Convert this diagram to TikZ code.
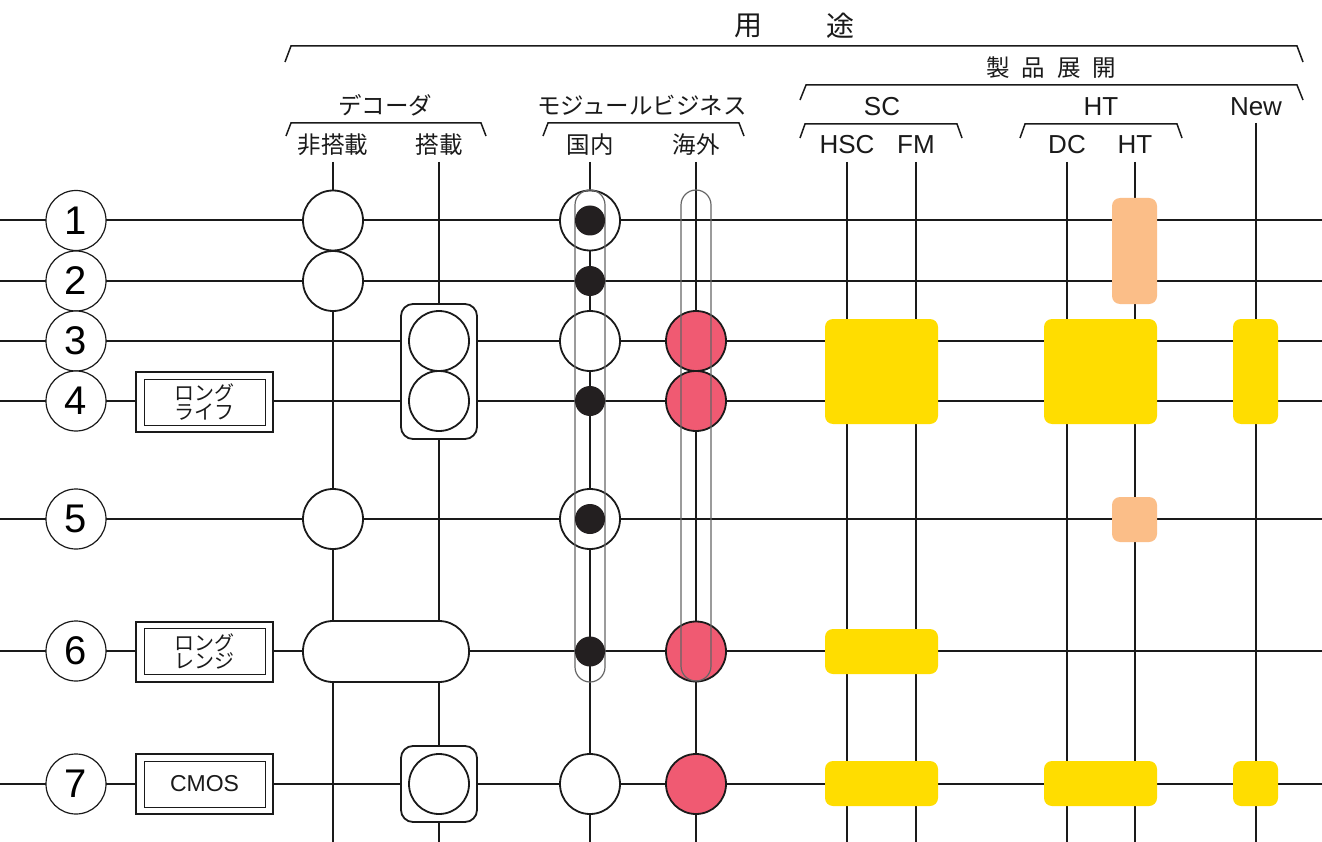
\documentclass[tikz,border=0pt]{standalone}
\usepackage{fontspec}
\setmainfont{Liberation Sans}
\newfontfamily\jp{Noto Sans CJK JP}
\definecolor{pinkred}{HTML}{F05A72}
\definecolor{ylw}{HTML}{FFDD00}
\definecolor{peach}{HTML}{FBBE88}
\definecolor{dotblk}{HTML}{231F20}
\definecolor{capgray}{HTML}{666666}
\definecolor{ink}{HTML}{1A1A1A}
\begin{document}
\begin{tikzpicture}[x=1pt,y=-1pt,
  gridline/.style={line width=2pt, ink},
  brk/.style={line width=1.5pt, ink},
  numc/.style={circle, draw=ink, line width=1.2pt, fill=white, minimum size=60pt, inner sep=0pt, font=\fontsize{40}{40}\selectfont},
  wc/.style={circle, draw=ink, line width=1.8pt, fill=white, minimum size=60pt, inner sep=0pt},
  rc/.style={wc, fill=pinkred},
  bd/.style={circle, fill=dotblk, minimum size=30pt, inner sep=0pt},
  capsule/.style={draw=capgray, line width=1.2pt, rounded corners=15pt, minimum width=30pt, inner sep=0pt},
  rbox/.style={draw=ink, line width=1.8pt, fill=white, rounded corners=12pt, inner sep=0pt, minimum width=76pt},
  stad/.style={draw=ink, line width=1.8pt, fill=white, rounded corners=30pt, inner sep=0pt, minimum width=166pt, minimum height=61pt},
  outbox/.style={draw=ink, line width=2pt, fill=white, inner sep=0pt, minimum width=137pt, minimum height=60pt},
  inbox/.style={draw=ink, line width=1pt, inner sep=0pt, minimum width=121pt, minimum height=46pt, align=center},
  ybox/.style={fill=ylw, rounded corners=8pt, inner sep=0pt},
  pbox/.style={fill=peach, rounded corners=8pt, inner sep=0pt},
  jt/.style={font=\jp\fontsize{23.5}{23.5}\selectfont, inner sep=0pt, text=ink},
  lt/.style={font=\fontsize{26}{26}\selectfont, inner sep=0pt, text=ink},
]
\useasboundingbox (0,0) rectangle (1322,842);
\fill[white] (0,0) rectangle (1322,842);

% rows
\foreach \n/\y in {1/220.5,2/281,3/341,4/401,5/519,6/651,7/784}{
  \coordinate (rL\n) at (0,\y);
  \coordinate (rR\n) at (1322,\y);
  \draw[gridline] (rL\n) -- (rR\n);
}
% columns
\foreach \n/\x in {nd/333,dd/439,dom/590,ovs/696,hsc/847,fm/916,dc/1067,ht/1135}{
  \coordinate (cT\n) at (\x,162);
  \coordinate (cB\n) at (\x,842);
  \draw[gridline] (cT\n) -- (cB\n);
}
\coordinate (cTnew) at (1256,123);
\coordinate (cBnew) at (1256,842);
\draw[gridline] (cTnew) -- (cBnew);

% headers
\node[jt, font=\jp\fontsize{28}{28}\selectfont] (you) at (748,26) {用};
\node[jt, font=\jp\fontsize{28}{28}\selectfont] (to) at (840,26) {途};
\draw[brk] (285,62) -- (291,46) -- (1297,46) -- (1303,62);
\node[jt] (seihin) at (1051,68) {製\hspace{12pt}品\hspace{12pt}展\hspace{12pt}開};
\draw[brk] (800,100) -- (806,85) -- (1297,85) -- (1303,100);
\node[jt] (deco) at (385,105) {デコーダ};
\draw[brk] (286,136) -- (291,123) -- (481,123) -- (486,136);
\node[jt] (mod) at (642,105) {モジュールビジネス};
\draw[brk] (543,136) -- (548,123) -- (739,123) -- (744,136);
\node[lt] (sc) at (882,107) {SC};
\draw[brk] (800,138) -- (805,124) -- (957,124) -- (962,138);
\node[lt] (htg) at (1101,107) {HT};
\draw[brk] (1020,138) -- (1025,124) -- (1177,124) -- (1182,138);
\node[lt] (new) at (1256,107) {New};
\node[jt] (nd) at (333,145) {非搭載};
\node[jt] (dd) at (439,145) {搭載};
\node[jt] (dom) at (590,145) {国内};
\node[jt] (ovs) at (696,145) {海外};
\node[lt] (hsc) at (847,145) {HSC};
\node[lt] (fm) at (916,145) {FM};
\node[lt] (dc) at (1067,145) {DC};
\node[lt] (ht) at (1135,145) {HT};

% number circles
\foreach \n/\y in {1/220.5,2/281,3/341,4/401,5/519,6/651,7/784}{
  \node[numc] (num\n) at (76,\y) {\n};
}
% left boxes
\node[outbox] (lbA) at (204.5,402) {};
\node[inbox, jt, font=\jp\fontsize{20}{18.5}\selectfont] (lbAi) at (204.5,402) {ロング\\ライフ};
\node[outbox] (lbB) at (204.5,651.5) {};
\node[inbox, jt, font=\jp\fontsize{20}{18.5}\selectfont] (lbBi) at (204.5,651.5) {ロング\\レンジ};
\node[outbox] (lbC) at (204.5,784) {};
\node[inbox, lt, font=\fontsize{23}{23}\selectfont] (lbCi) at (204.5,784) {CMOS};

% decoder column
\node[wc] (d1) at (333,220.5) {};
\node[wc] (d2) at (333,281) {};
\node[wc] (d5) at (333,519) {};
\node[stad] (d6) at (386,651.5) {};
\node[rbox, minimum height=135pt] (e34) at (439,371.5) {};
\node[wc] (e3) at (439,341) {};
\node[wc] (e4) at (439,401) {};
\node[rbox, minimum height=76pt] (e7) at (439,784) {};
\node[wc] (e7c) at (439,784) {};

% module business
\node[wc] (m1) at (590,220.5) {};
\node[wc] (m3) at (590,341) {};
\node[wc] (m5) at (590,519) {};
\node[wc] (m7) at (590,784) {};
\node[rc] (o3) at (696,341) {};
\node[rc] (o4) at (696,401) {};
\node[rc] (o6) at (696,651.5) {};
\node[rc] (o7) at (696,784) {};
\node[capsule, minimum height=492pt] (capdom) at (590,436) {};
\node[capsule, minimum height=491pt] (capovs) at (696,435.5) {};
\foreach \n/\y in {1/220.5,2/281,4/401,5/519,6/651.5}{
  \node[bd] (b\n) at (590,\y) {};
}

% product boxes
\node[ybox, minimum width=113pt, minimum height=105pt] (y34sc) at (881.5,371.5) {};
\node[ybox, minimum width=113pt, minimum height=105pt] (y34ht) at (1100.5,371.5) {};
\node[ybox, minimum width=45pt, minimum height=105pt] (y34new) at (1255.5,371.5) {};
\node[pbox, minimum width=45pt, minimum height=106pt] (p12) at (1134.5,251) {};
\node[pbox, minimum width=45pt, minimum height=45pt] (p5) at (1134.5,519.5) {};
\node[ybox, minimum width=113pt, minimum height=45pt] (y6sc) at (881.5,651.5) {};
\node[ybox, minimum width=113pt, minimum height=45pt] (y7sc) at (881.5,783.5) {};
\node[ybox, minimum width=113pt, minimum height=45pt] (y7ht) at (1100.5,783.5) {};
\node[ybox, minimum width=45pt, minimum height=45pt] (y7new) at (1255.5,783.5) {};
\end{tikzpicture}
\end{document}
